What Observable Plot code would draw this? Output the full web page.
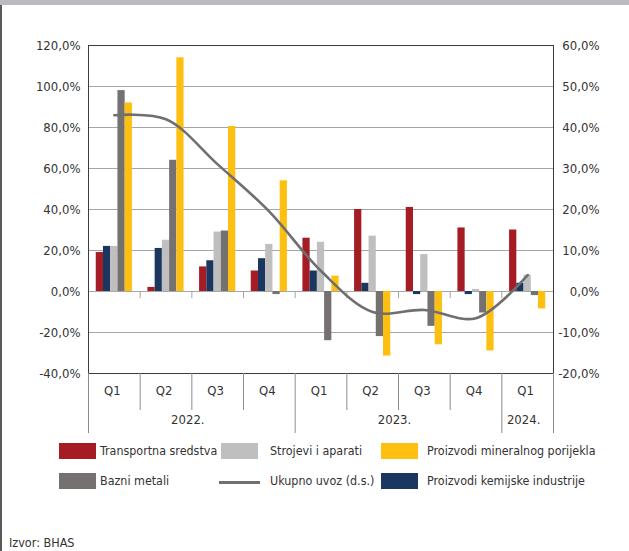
<!DOCTYPE html>
<html>
<head>
<meta charset="utf-8">
<script src="https://cdn.jsdelivr.net/npm/d3@7"></script>
<script src="https://cdn.jsdelivr.net/npm/@observablehq/plot@0.6"></script>
<style>
  html, body { margin: 0; padding: 0; background: #fff; }
  #wrap { position: relative; width: 629px; height: 551px; overflow: hidden;
          font-family: "Liberation Sans Narrow", "DejaVu Sans Condensed", "Open Sans", sans-serif; color: #333; }
  #topband { position: absolute; left: 0; top: 0; width: 629px; height: 5px; background: #babbbf; }
  #leftline { position: absolute; left: 0; top: 5px; width: 2px; height: 546px; background: #5a5a5a; }
  #chart { position: absolute; left: 0; top: 0; }
  .lg { position: absolute; font-size: 12.4px; line-height: 16px; white-space: nowrap; }
  .sw { position: absolute; width: 37px; height: 16px; }
  .swl { position: absolute; width: 41px; height: 3px; background: #6f6f6f; }
  #src { position: absolute; left: 9px; top: 535px; font-size: 12.5px; }
</style>
</head>
<body>
<div id="wrap">
  <div id="chart"></div>
  <div id="topband"></div>
  <div id="leftline"></div>
  <div id="legend"></div>
  <div id="src">Izvor: BHAS</div>
</div>
<script>
// ---- data ----
const quarters    = ["Q1", "Q2", "Q3", "Q4", "Q1", "Q2", "Q3", "Q4", "Q1"];
const quarterYear = ["2022.", "2022.", "2022.", "2022.", "2023.", "2023.", "2023.", "2023.", "2024."];

const transportna = [19, 2, 12, 10, 26, 40, 41, 31, 30];
const kemijske    = [22, 21, 15, 16, 10, 4, -1.5, -1.5, 4];
const strojevi    = [22, 25, 29, 23, 24, 27, 18, 1, 8];
const bazni       = [98, 64, 29.5, -1.5, -24, -22, -17, -10.5, -2];
const mineralni   = [92, 114, 80.5, 54, 7.5, -31.5, -26, -29, -8.5];
const ukupno      = [43, 42, 31, 19.5, 5, -5, -4.5, -6.5, 4];   // right axis (d.s.)

const leftTicks  = [-40, -20, 0, 20, 40, 60, 80, 100, 120];

const barSeries = [
  {name: "Transportna sredstva", values: transportna, color: "#a51c24"},
  {name: "Proizvodi kemijske industrije", values: kemijske, color: "#1b365f"},
  {name: "Strojevi i aparati", values: strojevi, color: "#bfbfbf"},
  {name: "Bazni metali", values: bazni, color: "#767171"},
  {name: "Proizvodi mineralnog porijekla", values: mineralni, color: "#fdc010"}
];
const lineName = "Ukupno uvoz (d.s.)";
const lineColor = "#6f6f6f";

// ---- derived tables ----
const fmt = v => v.toFixed(1).replace(".", ",") + "%";
const nB = barSeries.length;
const barW = 0.14, pad = (1 - nB * barW) / 2;
const barData = barSeries.flatMap((s, j) => s.values.map((v, i) => ({series: s.name, i, j, v})));
const lineData = ukupno.map((v, i) => ({i, v}));

const yearGroups = [];
quarterYear.forEach((y, i) => {
  if (!yearGroups.length || yearGroups[yearGroups.length - 1].year !== y) yearGroups.push({year: y, start: i, end: i + 1});
  else yearGroups[yearGroups.length - 1].end = i + 1;
});
const yearBounds = new Set(yearGroups.flatMap(g => [g.start, g.end]));
const bounds = d3.range(quarters.length + 1);

const height = 440, mTop = 45, mBottom = 67;
const unitsPerPx = (leftTicks[leftTicks.length - 1] - leftTicks[0]) / (height - mTop - mBottom);
const yMin = leftTicks[0];

const chart = Plot.plot({
  width: 629,
  height,
  marginTop: mTop,
  marginBottom: mBottom,
  marginLeft: 88,
  marginRight: 76,
  style: {fontFamily: '"Liberation Sans Narrow", "DejaVu Sans Condensed", "Open Sans", sans-serif', fontSize: "13px", color: "#333", overflow: "visible"},
  x: {domain: [0, quarters.length], axis: null},
  y: {domain: [leftTicks[0], leftTicks[leftTicks.length - 1]], axis: null},
  color: {domain: barSeries.map(s => s.name), range: barSeries.map(s => s.color)},
  marks: [
    Plot.gridY(leftTicks, {stroke: "#a6a6a6", strokeOpacity: 1}),
    Plot.ruleX(bounds.slice(1, -1), {x: d => d, y1: 0, y2: -3.5 , stroke: "#a6a6a6"}),
    Plot.rectY(barData, {
      x1: d => d.i + pad + d.j * barW,
      x2: d => d.i + pad + (d.j + 1) * barW,
      y1: 0, y2: d => d.v, fill: "series"
    }),
    Plot.line(lineData, {x: d => d.i + 0.5, y: d => d.v * 2, curve: "catmull-rom", stroke: lineColor, strokeWidth: 2.6}),
    Plot.frame({stroke: "#3c3c3c"}),
    Plot.axisY(leftTicks, {anchor: "left", tickSize: 0, tickPadding: 8, tickFormat: fmt, label: null, fill: "#333"}),
    Plot.axisY(leftTicks, {anchor: "right", tickSize: 0, tickPadding: 46, textAnchor: "end", tickFormat: d => fmt(d / 2), label: null, fill: "#333"}),
    // category axis separators
    Plot.ruleX(bounds, {
      x: d => d, y1: yMin,
      y2: d => yMin - (yearBounds.has(d) ? 60 : 37) * unitsPerPx,
      stroke: "#8c8c8c"
    }),
    Plot.text(quarters, {x: (d, i) => i + 0.5, y: yMin, dy: 17, dx: -2, text: d => d, fill: "#333"}),
    Plot.text(yearGroups, {x: d => (d.start + d.end) / 2, y: yMin, dy: 46, dx: -4, text: d => d.year, fill: "#333"})
  ]
});
document.getElementById("chart").appendChild(chart);

// ---- legend (HTML, below the plot area) ----
const legendItems = [
  {name: barSeries[0].name, color: barSeries[0].color, sx: 59, tx: 100, row: 0},
  {name: barSeries[2].name, color: barSeries[2].color, sx: 221, tx: 270, row: 0},
  {name: barSeries[4].name, color: barSeries[4].color, sx: 381, tx: 427, row: 0},
  {name: barSeries[3].name, color: barSeries[3].color, sx: 59, tx: 100, row: 1},
  {name: lineName, color: lineColor, sx: 219, tx: 270, row: 1, line: true},
  {name: barSeries[1].name, color: barSeries[1].color, sx: 381, tx: 427, row: 1}
];
const rowTop = [443, 473];
const lg = document.getElementById("legend");
for (const it of legendItems) {
  const sw = document.createElement("div");
  if (it.line) {
    sw.className = "swl";
    sw.style.left = it.sx + "px";
    sw.style.top = (rowTop[it.row] + 8) + "px";
    sw.style.background = it.color;
  } else {
    sw.className = "sw";
    sw.style.left = it.sx + "px";
    sw.style.top = rowTop[it.row] + "px";
    sw.style.background = it.color;
  }
  lg.appendChild(sw);
  const t = document.createElement("div");
  t.className = "lg";
  t.style.left = it.tx + "px";
  t.style.top = rowTop[it.row] + "px";
  t.textContent = it.name;
  lg.appendChild(t);
}
</script>
</body>
</html>
